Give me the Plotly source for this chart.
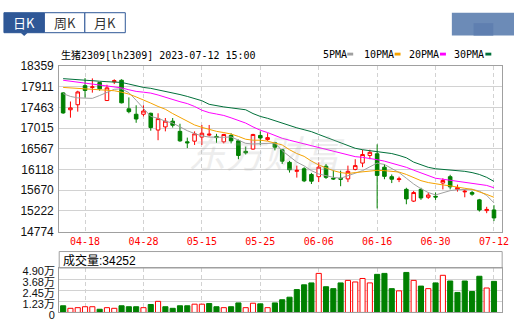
import plotly.graph_objects as go

# ---------------- data ----------------
dates = [
    "2023-04-13", "2023-04-14", "2023-04-17", "2023-04-18", "2023-04-19", "2023-04-20", "2023-04-21",
    "2023-04-24", "2023-04-25", "2023-04-26", "2023-04-27", "2023-04-28",
    "2023-05-04", "2023-05-05", "2023-05-08", "2023-05-09", "2023-05-10", "2023-05-11", "2023-05-12",
    "2023-05-15", "2023-05-16", "2023-05-17", "2023-05-18", "2023-05-19", "2023-05-22", "2023-05-23",
    "2023-05-24", "2023-05-25", "2023-05-26", "2023-05-29", "2023-05-30", "2023-05-31",
    "2023-06-01", "2023-06-02", "2023-06-05", "2023-06-06", "2023-06-07", "2023-06-08", "2023-06-09",
    "2023-06-12", "2023-06-13", "2023-06-14", "2023-06-15", "2023-06-16", "2023-06-19", "2023-06-20",
    "2023-06-21", "2023-06-26", "2023-06-27", "2023-06-28", "2023-06-29", "2023-06-30",
    "2023-07-03", "2023-07-04", "2023-07-05", "2023-07-06", "2023-07-07", "2023-07-10", "2023-07-11",
    "2023-07-12",
]

opens = [17776, 17411, 17520, 17933, 17896, 18000, 17611, 18019, 18050, 17432,
         17314, 17314, 17335, 16972, 17040, 17164, 16944, 16717, 16731, 16820,
         16862, 16834, 16717, 16855, 16738, 16511, 16560, 16855, 16766, 16696,
         16546, 16272, 16078, 16134, 16010, 15962, 16189, 15928, 15928, 15914,
         16120, 16257, 16422, 16458, 16168, 15962, 15900, 15688, 15433, 15688,
         15516, 15536, 15825, 15962, 15687, 15633, 15619, 15460, 15227, 15242]
highs = [17792, 17590, 17823, 18097, 18091, 18009, 17953, 18071, 18071, 17679,
         17508, 17508, 17349, 17335, 17232, 17232, 17108, 16808, 16944, 17082,
         17082, 16890, 16890, 16903, 16766, 16614, 16890, 16944, 16903, 16717,
         16556, 16305, 16202, 16168, 16044, 16272, 16237, 16099, 16093, 16202,
         16340, 16546, 16546, 16663, 16237, 16010, 15962, 15722, 15654, 15722,
         15619, 15619, 15928, 16003, 15790, 15687, 15654, 15481, 15310, 15345]
lows = [17323, 17240, 17370, 17673, 17782, 17823, 17603, 17968, 17549, 17335,
        17129, 17267, 16958, 16752, 16944, 17026, 16717, 16581, 16649, 16649,
        16834, 16696, 16683, 16683, 16340, 16443, 16546, 16649, 16738, 16532,
        16237, 16051, 15942, 15845, 15804, 15845, 15914, 15893, 15756, 15845,
        16099, 16168, 16340, 15275, 15907, 15824, 15845, 15365, 15413, 15460,
        15481, 15460, 15687, 15687, 15639, 15516, 15550, 15207, 15172, 15001]
closes = [17343, 17452, 17797, 17830, 17906, 17865, 17885, 18040, 17562, 17370,
          17211, 17384, 17026, 17220, 17164, 17075, 16738, 16696, 16890, 16903,
          16882, 16808, 16876, 16738, 16422, 16478, 16876, 16800, 16808, 16601,
          16299, 16113, 16099, 15872, 15865, 16168, 15948, 15914, 15907, 16078,
          16202, 16443, 16490, 15990, 15969, 15907, 15914, 15481, 15619, 15502,
          15564, 15522, 15880, 15742, 15728, 15646, 15584, 15241, 15254, 15069]

volumes = [7350, 4550, 5250, 6300, 6300, 3500, 5250, 4550, 7350, 6300,
           6300, 5250, 8750, 12250, 6300, 4550, 7350, 7350, 9100, 9100,
           9800, 6300, 5250, 6300, 10500, 5250, 10150, 9450, 5250, 10500,
           14000, 16800, 25200, 30450, 32550, 43050, 28350, 26250, 32550, 35350,
           33600, 37450, 32550, 42000, 43050, 26250, 23800, 44100, 35350, 29050,
           26250, 32550, 40950, 34650, 22050, 34650, 23100, 39900, 26950, 34252]

ma5 = [17761, 17700, 17669, 17658, 17658, 17720, 17792, 17854, 17865, 17782,
       17617, 17438, 17267, 17226, 17164, 17123, 17040, 16958, 16896, 16845,
       16820, 16814, 16814, 16824, 16752, 16684, 16670, 16680, 16690, 16690,
       16525, 16402, 16278, 16196, 16093, 16021, 15979, 15948, 15928, 15979,
       16031, 16093, 16175, 16257, 16227, 16134, 16051, 15928, 15804, 15701,
       15619, 15567, 15619, 15660, 15681, 15691, 15691, 15650, 15557, 15395]
ma10 = [17895, 17885, 17871, 17858, 17844, 17838, 17834, 17823, 17792, 17751,
        17689, 17628, 17555, 17483, 17422, 17329, 17246, 17164, 17082, 17030,
        16979, 16944, 16917, 16886, 16834, 16773, 16752, 16752, 16731, 16690,
        16649, 16546, 16463, 16402, 16299, 16216, 16154, 16093, 16051, 16031,
        16051, 16072, 16082, 16099, 16093, 16082, 16062, 16010, 15938, 15876,
        15835, 15804, 15784, 15763, 15732, 15711, 15687, 15639, 15578, 15516]
ma20 = [18050, 18029, 17998, 17978, 17957, 17932, 17916, 17900, 17885, 17844,
        17809, 17792, 17772, 17731, 17679, 17628, 17586, 17545, 17483, 17401,
        17349, 17319, 17288, 17236, 17185, 17123, 17040, 16968, 16917, 16855,
        16793, 16752, 16711, 16670, 16628, 16593, 16556, 16515, 16474, 16433,
        16396, 16381, 16360, 16330, 16299, 16257, 16216, 16165, 16103, 16041,
        15979, 15928, 15907, 15887, 15866, 15846, 15825, 15804, 15773, 15722]
ma30 = [18085, 18071, 18060, 18050, 18040, 18029, 18019, 18009, 18003, 17968,
        17926, 17895, 17875, 17844, 17817, 17782, 17741, 17700, 17658, 17607,
        17529, 17494, 17473, 17452, 17438, 17411, 17329, 17267, 17226, 17174,
        17108, 17061, 17020, 16979, 16937, 16876, 16814, 16752, 16690, 16628,
        16577, 16546, 16525, 16505, 16484, 16463, 16422, 16371, 16278, 16216,
        16165, 16134, 16124, 16113, 16093, 16078, 16051, 16010, 15948, 15860]

price_ticks = [18359, 17911, 17463, 17015, 16567, 16118, 15670, 15222, 14774]
price_tick_text = ["18359", "17911", "17463", "17015", "16567", "16118", "15670", "15222", "14774"]
vol_ticks = [0, 12300, 24500, 36800, 49000]
vol_tick_text = ["0", "1.23万", "2.45万", "3.68万", "4.90万"]
x_tick_dates = ["2023-04-18", "2023-04-28", "2023-05-15", "2023-05-25",
                "2023-06-06", "2023-06-16", "2023-06-30", "2023-07-12"]
x_tick_text = ["04-18", "04-28", "05-15", "05-25", "06-06", "06-16", "06-30", "07-12"]

ma_names = ["5PMA", "10PMA", "20PMA", "30PMA"]
title_text = "生猪2309[lh2309] 2023-07-12 15:00"
vol_title = "成交量:" + str(volumes[-1])

# ---------------- styling ----------------
W, H = 521, 330
RED = "#ff0000"
GREEN = "#008000"
MA_COLORS = ["#a0a0a0", "#f5a300", "#ff00ff", "#00703a"]
GRID = "#d2d2d2"
FRAME = "#a0a0a0"
BLUE = "#2f5897"


def X(px):
    return px / W


def Y(py):
    return 1 - py / H


fig = go.Figure()

fig.add_trace(go.Candlestick(
    x=dates, open=opens, high=highs, low=lows, close=closes,
    increasing=dict(line=dict(color=RED, width=1), fillcolor="white"),
    decreasing=dict(line=dict(color=GREEN, width=1), fillcolor=GREEN),
    whiskerwidth=0, xaxis="x", yaxis="y", hoverinfo="skip", showlegend=False,
))

for name, vals, col in zip(ma_names, [ma5, ma10, ma20, ma30], MA_COLORS):
    fig.add_trace(go.Scatter(x=dates, y=vals, mode="lines", name=name,
                             line=dict(color=col, width=1), xaxis="x", yaxis="y",
                             hoverinfo="skip", showlegend=False))

vol_up = [False] + [closes[i] > closes[i - 1] for i in range(1, len(closes))]
fig.add_trace(go.Bar(
    x=dates, y=volumes, xaxis="x2", yaxis="y2",
    marker=dict(color=["white" if u else GREEN for u in vol_up],
                line=dict(color=[RED if u else GREEN for u in vol_up], width=1)),
    hoverinfo="skip", showlegend=False,
))

xr = [-0.54, len(dates) - 1 + 1.12]
xdom = [X(60), X(509)]

fig.update_layout(
    width=W, height=H,
    margin=dict(l=0, r=0, t=0, b=0),
    paper_bgcolor="white", plot_bgcolor="white",
    showlegend=False,
    bargap=0.3,
    boxgap=0.3,
    xaxis=dict(
        type="category", domain=xdom, range=xr, anchor="y",
        tickmode="array", tickvals=x_tick_dates, ticktext=x_tick_text,
        tickfont=dict(family="DejaVu Sans Mono", size=10, color=RED),
        showgrid=True, gridcolor=GRID, griddash="4px,3px", gridwidth=1,
        showline=True, linecolor=FRAME, linewidth=1, mirror=True,
        ticks="", rangeslider=dict(visible=False), fixedrange=True,
    ),
    yaxis=dict(
        domain=[Y(236), Y(62)], range=[price_ticks[-1], price_ticks[0]], anchor="x",
        tickmode="array", tickvals=price_ticks, ticktext=price_tick_text,
        tickfont=dict(family="Liberation Sans", size=12, color="#111"),
        showgrid=True, gridcolor=GRID, gridwidth=1, zeroline=False,
        showline=True, linecolor=FRAME, linewidth=1, mirror=True,
        ticks="", ticklabelstandoff=2,
    ),
    xaxis2=dict(
        type="category", domain=xdom, range=xr, anchor="y2",
        tickmode="array", tickvals=x_tick_dates, showticklabels=False,
        showgrid=True, gridcolor=GRID, griddash="4px,3px", gridwidth=1,
        showline=True, linecolor=FRAME, linewidth=1, mirror=True, ticks="",
    ),
    yaxis2=dict(
        domain=[Y(321), Y(274.3)], range=[0, vol_ticks[-1]], anchor="x2",
        tickmode="array", tickvals=vol_ticks, ticktext=vol_tick_text,
        tickfont=dict(family="Liberation Sans, Noto Sans CJK SC", size=11, color="#111"),
        showgrid=True, gridcolor=GRID, gridwidth=1, zeroline=False,
        showline=True, linecolor=FRAME, linewidth=1, mirror=True,
        ticks="", ticklabelshift=3, ticklabelstandoff=1,
    ),
)

shapes = []
# volume title box
shapes.append(dict(type="rect", xref="paper", yref="paper", x0=X(60), x1=X(509), y0=Y(274.3), y1=Y(257),
                   line=dict(color=FRAME, width=1), fillcolor="rgba(0,0,0,0)", layer="above"))
# tabs
tab_x = [4, 45, 86, 127]
for k in range(3):
    shapes.append(dict(type="rect", xref="paper", yref="paper", x0=X(tab_x[k]), x1=X(tab_x[k + 1]),
                       y0=Y(27), y1=Y(6), line=dict(color=BLUE, width=1),
                       fillcolor=BLUE if k == 0 else "white"))
shapes.append(dict(type="path", xref="paper", yref="paper",
                   path=f"M {X(21)} {Y(27)} L {X(28)} {Y(27)} L {X(24.5)} {Y(30.5)} Z",
                   fillcolor=BLUE, line=dict(color=BLUE, width=0)))
# blurred blue box top-right
shapes.append(dict(type="rect", xref="paper", yref="paper", x0=X(458), x1=X(521), y0=Y(30), y1=Y(6),
                   fillcolor="#6c8bb7", line=dict(width=0)))
shapes.append(dict(type="rect", xref="paper", yref="paper", x0=X(480), x1=X(500), y0=Y(30), y1=Y(17),
                   fillcolor="#5f7fb0", line=dict(width=0)))
# legend swatches
legend_text_x = [325.5, 367, 412.5, 458]
legend_sw_x = [352, 400, 446, 492]
for sx, col in zip(legend_sw_x, MA_COLORS):
    shapes.append(dict(type="rect", xref="paper", yref="paper", x0=X(sx), x1=X(sx + 6),
                       y0=Y(51), y1=Y(48), fillcolor=col, line=dict(width=0)))
fig.update_layout(shapes=shapes)

ann = []
for k, lab in enumerate(["日K", "周K", "月K"]):
    ann.append(dict(x=X((tab_x[k] + tab_x[k + 1]) / 2), y=Y(16.5), xref="paper", yref="paper",
                    text=lab, showarrow=False, xanchor="center", yanchor="middle",
                    font=dict(family="Noto Sans CJK SC", size=13, color="white" if k == 0 else "#333")))
ann.append(dict(x=X(60), y=Y(50), xref="paper", yref="paper", text=title_text, showarrow=False,
                xanchor="left", yanchor="middle",
                font=dict(family="DejaVu Sans Mono, Noto Sans CJK SC", size=10, color="#000")))
for tx, name in zip(legend_text_x, ma_names):
    ann.append(dict(x=X(tx), y=Y(50), xref="paper", yref="paper", text=name, showarrow=False,
                    xanchor="left", yanchor="middle",
                    font=dict(family="DejaVu Sans Mono", size=10, color="#000")))
ann.append(dict(x=X(61.5), y=Y(266), xref="paper", yref="paper", text=vol_title, showarrow=False,
                xanchor="left", yanchor="middle",
                font=dict(family="Liberation Sans, Noto Sans CJK SC", size=12, color="#000")))
# watermark
ann.append(dict(x=X(270), y=Y(152), xref="paper", yref="paper", text="<i>东方财富</i>", showarrow=False,
                xanchor="center", yanchor="middle", opacity=0.22,
                font=dict(family="Noto Sans CJK SC", size=38, color="#b0b0b0")))
fig.update_layout(annotations=ann)

fig.write_html("out.html")
